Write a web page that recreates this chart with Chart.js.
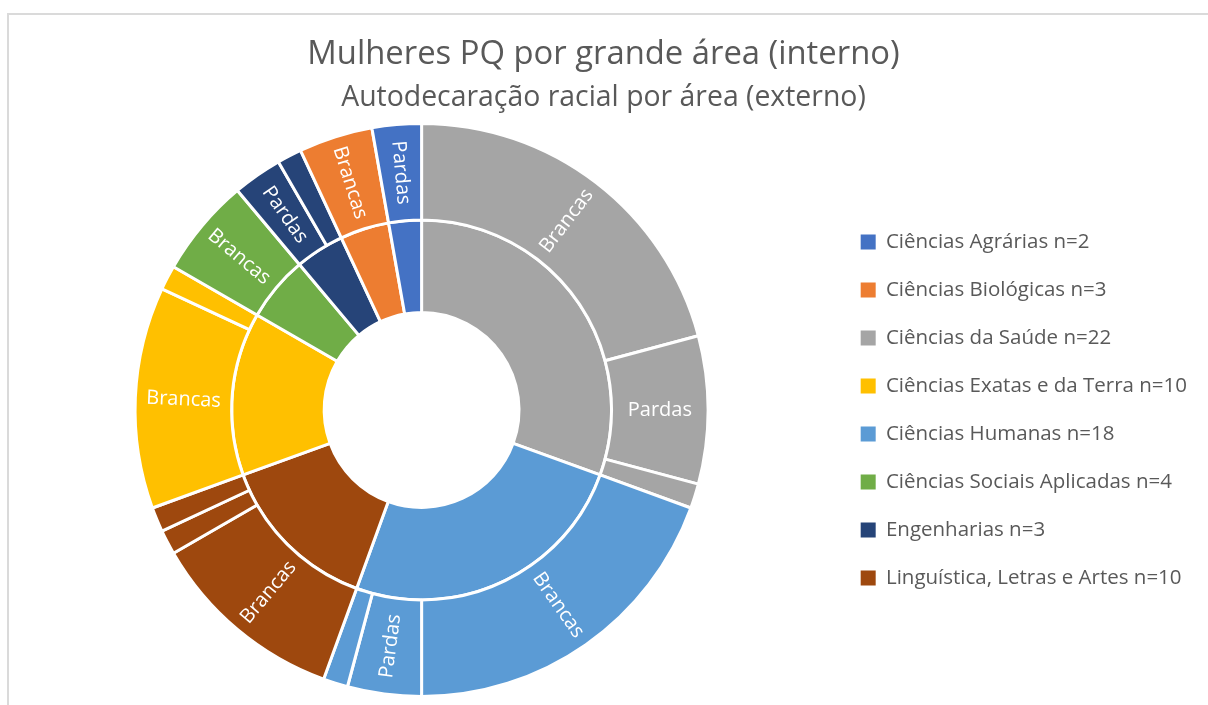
<!DOCTYPE html>
<html>
<head>
<meta charset="utf-8">
<script src="https://cdn.jsdelivr.net/npm/chart.js@4.4.1/dist/chart.umd.min.js"></script>
<style>
  html, body { margin: 0; padding: 0; overflow: hidden; background: #fff; }
  #frame { position: absolute; left: 7px; top: 13px; width: 1220px; height: 720px; border-left: 2px solid #dadada; border-top: 2px solid #dadada; }
  canvas { position: absolute; left: 0; top: 0; }
</style>
</head>
<body>
<div id="frame"></div>
<canvas id="sunburst" width="1208" height="705"></canvas>
<script>
// inner ring: areas, sorted by size (clockwise from the top)
const areas = ['Ciências da Saúde', 'Ciências Humanas', 'Linguística, Letras e Artes', 'Ciências Exatas e da Terra',
  'Ciências Sociais Aplicadas', 'Engenharias', 'Ciências Biológicas', 'Ciências Agrárias'];
const areaCounts = [22, 18, 10, 10, 4, 3, 3, 2];
const areaColors = ['#A5A5A5', '#5B9BD5', '#9E480E', '#FFC000', '#70AD47', '#264478', '#ED7D31', '#4472C4'];

// outer ring: racial self-declaration inside each area
const racialArea = [0, 0, 0, 1, 1, 1, 2, 2, 2, 3, 3, 4, 5, 5, 6, 7];
const racialLabels = ['Brancas', 'Pardas', 'Pretas', 'Brancas', 'Pardas', 'Pretas', 'Brancas', 'Pardas', 'Pretas',
  'Brancas', 'Pardas', 'Brancas', 'Pardas', 'Brancas', 'Brancas', 'Pardas'];
const racialCounts = [15, 6, 1, 14, 3, 1, 8, 1, 1, 9, 1, 4, 2, 1, 3, 2];

// legend is alphabetical
const legendOrder = ['Ciências Agrárias', 'Ciências Biológicas', 'Ciências da Saúde', 'Ciências Exatas e da Terra',
  'Ciências Humanas', 'Ciências Sociais Aplicadas', 'Engenharias', 'Linguística, Letras e Artes'];

const textGrey = '#595959';
Chart.defaults.font.family = "'Open Sans', sans-serif";

// white labels written along the radius of the outer slices
const sliceLabels = {
  id: 'sliceLabels',
  afterDatasetsDraw(chart) {
    const ctx = chart.ctx;
    const meta = chart.getDatasetMeta(0);
    ctx.save();
    ctx.font = "20px 'Open Sans', sans-serif";
    ctx.fillStyle = '#ffffff';
    ctx.textAlign = 'center';
    ctx.textBaseline = 'middle';
    meta.data.forEach((arc, i) => {
      if (racialCounts[i] < 2) return;
      const p = arc.getProps(['x', 'y', 'startAngle', 'endAngle', 'innerRadius', 'outerRadius'], true);
      const mid = (p.startAngle + p.endAngle) / 2;
      const r = (p.innerRadius + p.outerRadius) / 2;
      let rot = mid;
      if (Math.cos(mid) < -1e-6) rot += Math.PI;
      ctx.save();
      ctx.translate(p.x + Math.cos(mid) * r, p.y + Math.sin(mid) * r);
      ctx.rotate(rot);
      ctx.fillText(racialLabels[i], 0, 0);
      ctx.restore();
    });
    ctx.restore();
  }
};

new Chart(document.getElementById('sunburst'), {
  type: 'doughnut',
  data: {
    labels: racialLabels,
    datasets: [{
      label: 'Autodeclaração racial',
      data: racialCounts,
      backgroundColor: racialArea.map(a => areaColors[a]),
      borderColor: '#ffffff',
      borderWidth: 3,
      weight: 96
    }, {
      label: 'Grande área',
      data: areaCounts,
      backgroundColor: areaColors,
      borderColor: '#ffffff',
      borderWidth: 3,
      weight: 92
    }]
  },
  options: {
    responsive: false,
    animation: false,
    cutout: '34%',
    layout: { padding: { left: 10, right: 11, top: 0, bottom: 7 } },
    plugins: {
      title: {
        display: true,
        text: 'Mulheres PQ por grande área (interno)',
        color: textGrey,
        font: { size: 32.8, weight: 'normal' },
        padding: { top: 35, bottom: 7 }
      },
      subtitle: {
        display: true,
        text: 'Autodecaração racial por área (externo)',
        color: textGrey,
        font: { size: 28.4, weight: 'normal' },
        padding: { top: 0, bottom: 6.5 }
      },
      legend: {
        position: 'right',
        fullSize: false,
        labels: {
          boxWidth: 15,
          boxHeight: 15,
          padding: 27.5,
          color: textGrey,
          font: { size: 20.5 },
          generateLabels: () => legendOrder.map(name => {
            const k = areas.indexOf(name);
            return {
              text: name + ' n=' + areaCounts[k],
              fillStyle: areaColors[k],
              strokeStyle: areaColors[k],
              lineWidth: 0,
              fontColor: textGrey,
              hidden: false,
              index: k
            };
          })
        }
      },
      tooltip: { enabled: false }
    }
  },
  plugins: [sliceLabels]
});
</script>
</body>
</html>
